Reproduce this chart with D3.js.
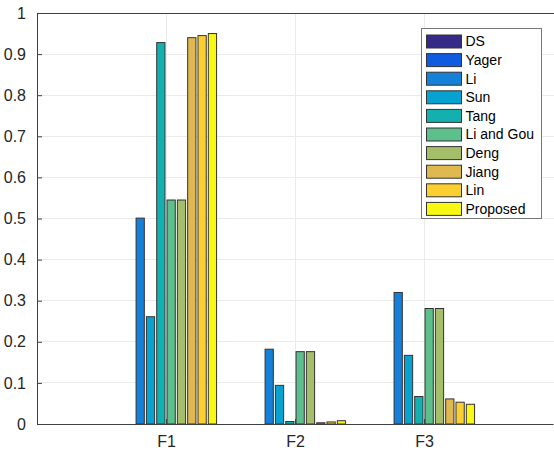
<!DOCTYPE html>
<html><head><meta charset="utf-8">
<script src="https://cdn.jsdelivr.net/npm/d3@7"></script>
<style>body{margin:0;background:#fff;}svg{display:block;font-family:"Liberation Sans",Arial,sans-serif;}</style>
</head><body>
<script>
const categories = ["F1", "F2", "F3"];
const methods = ["DS", "Yager", "Li", "Sun", "Tang", "Li and Gou", "Deng", "Jiang", "Lin", "Proposed"];
const DS       = [0, 0, 0];
const Yager    = [0, 0, 0];
const Li       = [0.501, 0.182, 0.320];
const Sun      = [0.261, 0.094, 0.167];
const Tang     = [0.928, 0.006, 0.067];
const LiGou    = [0.545, 0.176, 0.281];
const Deng     = [0.545, 0.176, 0.281];
const Jiang    = [0.940, 0.003, 0.061];
const Lin      = [0.945, 0.005, 0.053];
const Proposed = [0.950, 0.008, 0.048];
const seriesValues = [DS, Yager, Li, Sun, Tang, LiGou, Deng, Jiang, Lin, Proposed];
const yTicks = [0, 0.1, 0.2, 0.3, 0.4, 0.5, 0.6, 0.7, 0.8, 0.9, 1];
const colors = ["#352a87", "#0f5ce0", "#1480d8", "#08a2d0", "#14b0b0", "#5cbf8c", "#a5be6a", "#e0b850", "#fccf30", "#f8f812"];

const W = 554, H = 450;
const svg = d3.select("body").append("svg").attr("width", W).attr("height", H);

const x = d3.scaleLinear().domain([0, 4]).range([37, 553]);
const y = d3.scaleLinear().domain([0, 1]).range([424, 13]);
const nS = methods.length;
const groupW = 0.8, step = groupW / nS, barW = step * 0.8;

// grid
const g = svg.append("g");
g.selectAll("line.hg").data(yTicks.slice(1)).enter().append("line")
  .attr("x1", x(0)).attr("x2", W).attr("y1", d => y(d)).attr("y2", d => y(d))
  .attr("stroke", "#ebebeb").attr("stroke-width", 1).attr("shape-rendering", "crispEdges");
g.selectAll("line.vg").data(categories).enter().append("line")
  .attr("x1", (d, i) => x(i + 1)).attr("x2", (d, i) => x(i + 1)).attr("y1", y(0)).attr("y2", y(1))
  .attr("stroke", "#ebebeb").attr("stroke-width", 1).attr("shape-rendering", "crispEdges");

// bars
seriesValues.forEach((vals, s) => {
  svg.append("g").selectAll("rect").data(vals).enter().append("rect")
    .attr("x", (d, i) => x(i + 1 + (s - (nS - 1) / 2) * step - barW / 2))
    .attr("width", x(barW) - x(0))
    .attr("y", d => y(d))
    .attr("height", d => y(0) - y(d))
    .attr("fill", colors[s])
    .attr("stroke", "#333")
    .attr("stroke-width", 1);
});

// axes
const axisColor = "#404040";
const yAxis = d3.axisLeft(y).tickValues(yTicks).tickSizeInner(-5).tickSizeOuter(0).tickPadding(11)
  .tickFormat(d => d3.format("")(+d.toFixed(1)));
const ya = svg.append("g").attr("transform", `translate(${x(0)},0)`).call(yAxis);
ya.select(".domain").attr("stroke", axisColor);
ya.selectAll(".tick line").attr("stroke", axisColor);
ya.selectAll("text").attr("font-size", 16).attr("fill", "#262626").attr("font-family", "Liberation Sans, Arial, sans-serif");

const xAxis = d3.axisBottom(x).tickValues([1, 2, 3]).tickFormat((d, i) => categories[i])
  .tickSizeInner(-5).tickSizeOuter(0).tickPadding(12);
const xa = svg.append("g").attr("transform", `translate(0,${y(0)})`).call(xAxis);
xa.select(".domain").attr("stroke", axisColor);
xa.selectAll(".tick line").attr("stroke", axisColor);
xa.selectAll("text").attr("font-size", 16).attr("fill", "#262626").attr("font-family", "Liberation Sans, Arial, sans-serif");

// top border
svg.append("line").attr("x1", x(0)).attr("x2", W).attr("y1", y(1)).attr("y2", y(1))
  .attr("stroke", axisColor).attr("shape-rendering", "crispEdges");

// legend
const lg = svg.append("g");
lg.append("rect").attr("x", 421.5).attr("y", 28.5).attr("width", 120).attr("height", 190)
  .attr("fill", "#fff").attr("stroke", "#777");
methods.forEach((m, i) => {
  const cy = 41.5 + i * 18.6;
  lg.append("rect").attr("x", 426.5).attr("y", cy - 6.5).attr("width", 35).attr("height", 13)
    .attr("fill", colors[i]).attr("stroke", "#333");
  lg.append("text").attr("x", 465.5).attr("y", cy).attr("dy", "0.35em")
    .attr("font-size", 14).attr("fill", "#000").text(m);
});
</script>
</body></html>
